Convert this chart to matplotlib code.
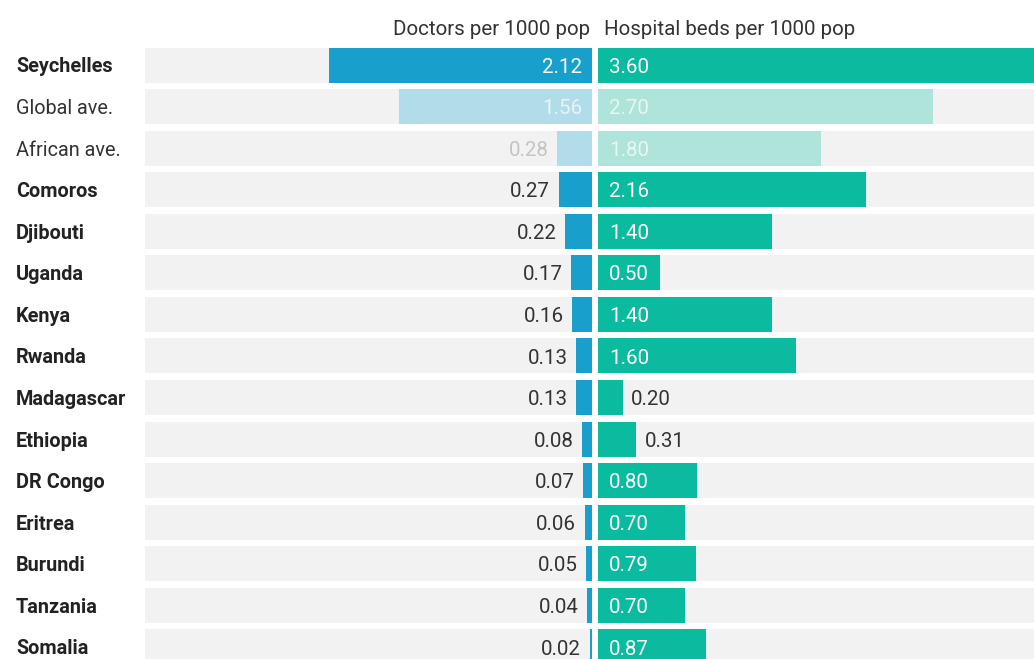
import matplotlib.pyplot as plt

plt.rcParams['font.family'] = ['Roboto', 'DejaVu Sans']

countries = ['Seychelles', 'Global ave.', 'African ave.', 'Comoros', 'Djibouti', 'Uganda',
             'Kenya', 'Rwanda', 'Madagascar', 'Ethiopia', 'DR Congo', 'Eritrea',
             'Burundi', 'Tanzania', 'Somalia']
doctors = [2.12, 1.56, 0.28, 0.27, 0.22, 0.17, 0.16, 0.13, 0.13, 0.08, 0.07, 0.06, 0.05, 0.04, 0.02]
beds = [3.60, 2.70, 1.80, 2.16, 1.40, 0.50, 1.40, 1.60, 0.20, 0.31, 0.80, 0.70, 0.79, 0.70, 0.87]
averages = ['Global ave.', 'African ave.']

BLUE, BLUE_LIGHT = '#199fcc', '#b1dce9'
TEAL, TEAL_LIGHT = '#0abb9f', '#aee4da'
BAND = '#f2f2f2'
DARK = '#333333'
FS = 14.8

W, H = 1034, 659
fig = plt.figure(figsize=(W / 100, H / 100), dpi=100)

px_per_unit = 124.0
pitch = 41.57
row0 = 65
y_top = -row0 / pitch
y_bot = (H - row0) / pitch
band_h = 35 / pitch
dy = -1.5  # small downward nudge for text, in points

ax1 = fig.add_axes([145 / W, 0, (592 - 145) / W, 1])
ax2 = fig.add_axes([598 / W, 0, (W - 598) / W, 1])

left_max = (592 - 145) / px_per_unit
right_max = (W - 598) / px_per_unit
ax1.set_xlim(left_max, 0)
ax2.set_xlim(0, right_max)
for ax in (ax1, ax2):
    ax.set_ylim(y_bot, y_top)
    ax.axis('off')

rows = range(len(countries))
ax1.barh(rows, [left_max] * len(countries), height=band_h, color=BAND, linewidth=0)
ax2.barh(rows, [right_max + 1] * len(countries), height=band_h, color=BAND, linewidth=0)

for i, name in enumerate(countries):
    is_ave = name in averages
    dcol = BLUE_LIGHT if is_ave else BLUE
    bcol = TEAL_LIGHT if is_ave else TEAL
    ax1.barh(i, doctors[i], height=band_h, color=dcol, linewidth=0)
    ax2.barh(i, beds[i], height=band_h, color=bcol, linewidth=0)

    # doctors value label
    if doctors[i] > 0.5:
        ax1.annotate(f'{doctors[i]:.2f}', (0, i), xytext=(-7.2, dy), textcoords='offset points',
                     ha='right', va='center', fontsize=FS,
                     color='#e8f4f8' if is_ave else 'white')
    else:
        ax1.annotate(f'{doctors[i]:.2f}', (doctors[i], i), xytext=(-6, dy), textcoords='offset points',
                     ha='right', va='center', fontsize=FS,
                     color='#c4c4c4' if is_ave else DARK)

    # beds value label
    if beds[i] > 0.4:
        ax2.annotate(f'{beds[i]:.2f}', (0, i), xytext=(7.9, dy), textcoords='offset points',
                     ha='left', va='center', fontsize=FS,
                     color='#e8f6f3' if is_ave else 'white')
    else:
        ax2.annotate(f'{beds[i]:.2f}', (beds[i], i), xytext=(6, dy), textcoords='offset points',
                     ha='left', va='center', fontsize=FS, color=DARK)

    # row label
    fig.text(16 / W, 1 - (row0 + 2 + pitch * i) / H, name, ha='left', va='center',
             fontsize=14.3, color=DARK if is_ave else '#222222',
             fontweight='normal' if is_ave else 'bold')

ax1.annotate('Doctors per 1000 pop', (0, y_top), xytext=(-1.5, -21), textcoords='offset points',
             ha='right', va='center', fontsize=FS, color=DARK, annotation_clip=False)
ax2.annotate('Hospital beds per 1000 pop', (0, y_top), xytext=(4, -21), textcoords='offset points',
             ha='left', va='center', fontsize=FS, color=DARK, annotation_clip=False)

fig.savefig('out.png', dpi=100, facecolor='white')
